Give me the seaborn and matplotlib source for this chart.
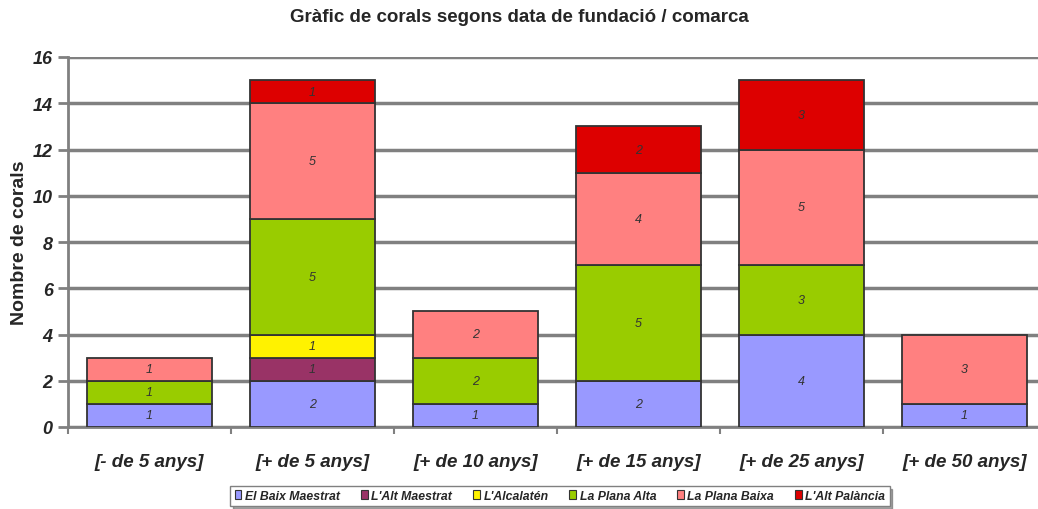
import matplotlib
matplotlib.use("Agg")
import matplotlib.pyplot as plt
import pandas as pd
import seaborn as sns
from matplotlib.patches import Patch

categories = ["[- de 5 anys]", "[+ de 5 anys]", "[+ de 10 anys]",
              "[+ de 15 anys]", "[+ de 25 anys]", "[+ de 50 anys]"]
comarques = ["El Baix Maestrat", "L'Alt Maestrat", "L'Alcalatén",
             "La Plana Alta", "La Plana Baixa", "L'Alt Palància"]

baix_maestrat = [1, 2, 1, 2, 4, 1]
alt_maestrat = [0, 1, 0, 0, 0, 0]
alcalaten = [0, 1, 0, 0, 0, 0]
plana_alta = [1, 5, 2, 5, 3, 0]
plana_baixa = [1, 5, 2, 4, 5, 3]
alt_palancia = [0, 1, 0, 2, 3, 0]

colors = ["#9999FF", "#993366", "#FFF200", "#99CC00", "#FF8080", "#DD0000"]

series = [baix_maestrat, alt_maestrat, alcalaten, plana_alta, plana_baixa, alt_palancia]

sns.set_style("white")
plt.rcParams["font.family"] = ["Liberation Sans", "DejaVu Sans"]

fig = plt.figure(figsize=(10.38, 5.1), dpi=100)
ax = fig.add_axes([68 / 1038, 1 - 428 / 510, 978 / 1038, 370 / 510])

bottoms = [0] * len(categories)
for name, vals, col in zip(comarques, series, colors):
    df = pd.DataFrame({"cat": categories, "val": vals, "bottom": bottoms})
    df = df[df["val"] > 0]
    sns.barplot(data=df, x="cat", y="val", order=categories, color=col,
                saturation=1, width=0.77, bottom=df["bottom"].to_numpy(),
                edgecolor="#333333", linewidth=1.3, zorder=3, ax=ax)
    for _, r in df.iterrows():
        ax.text(categories.index(r["cat"]), r["bottom"] + r["val"] / 2, str(r["val"]),
                ha="center", va="center", fontsize=9, style="italic",
                color="#333333", zorder=4)
    bottoms = [b + v for b, v in zip(bottoms, vals)]

ax.set_ylim(0, 16)
ax.set_xlim(-0.5, len(categories) - 0.5)
ax.set_yticks(range(0, 17, 2))
ax.yaxis.grid(True, color="#808080", linewidth=2.5, zorder=0)
ax.set_axisbelow(True)
for s in ["top", "right"]:
    ax.spines[s].set_visible(False)
for s in ["left", "bottom"]:
    ax.spines[s].set_color("#808080")
    ax.spines[s].set_linewidth(2)

ax.tick_params(axis="y", length=7, width=2, color="#808080", direction="out",
               left=True, pad=4)
ax.tick_params(axis="x", which="major", length=0, pad=19)
ax.set_xticks([i + 0.5 for i in range(-1, len(categories))], minor=True)
ax.tick_params(axis="x", which="minor", length=5, width=1.5, color="#808080",
               bottom=True, direction="out")

for lab in ax.get_yticklabels():
    lab.set_fontsize(13)
    lab.set_fontweight("bold")
    lab.set_style("italic")
for lab in ax.get_xticklabels():
    lab.set_fontsize(13.5)
    lab.set_fontweight("bold")
    lab.set_style("italic")

ax.set_xlabel("")
ax.set_ylabel("Nombre de corals", fontsize=14, fontweight="bold")
ax.yaxis.set_label_coords(-0.041, 0.5)

fig.text(0.5, 1 - 18 / 510, "Gràfic de corals segons data de fundació / comarca",
         ha="center", va="center", fontsize=13.5, fontweight="bold")

handles = [Patch(facecolor=c, edgecolor="#333333", linewidth=0.8) for c in colors]
leg = fig.legend(handles, comarques, loc="center", bbox_to_anchor=(560 / 1038, 1 - 497 / 510),
                 ncol=6, frameon=True, fancybox=False, shadow=True,
                 handlelength=0.55, handleheight=0.75, handletextpad=0.3,
                 columnspacing=1.7, borderpad=0.35,
                 prop={"size": 8.8, "weight": "bold", "style": "italic"})
leg.get_frame().set_edgecolor("#808080")
leg.get_frame().set_linewidth(1)

fig.savefig("out.png", dpi=100)
